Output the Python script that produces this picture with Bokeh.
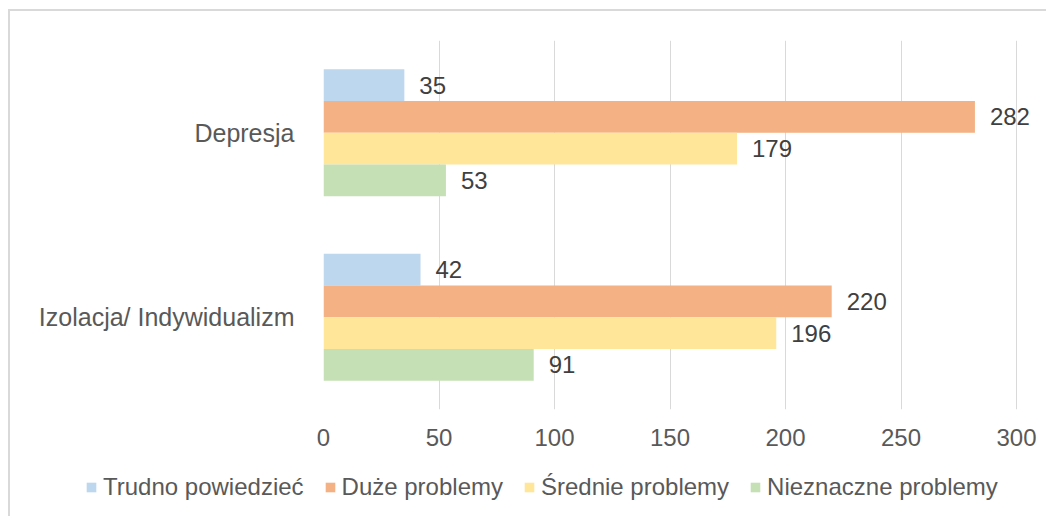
from bokeh.plotting import figure
from bokeh.models import ColumnDataSource, Range1d, FactorRange, FixedTicker, Legend, LegendItem, Spacer
from bokeh.layouts import column, row
from bokeh.transform import dodge
from bokeh.core.properties import value
from bokeh.embed import file_html
from bokeh.resources import INLINE

# ---- data ----
categories = ["Izolacja/ Indywidualizm", "Depresja"]  # bottom -> top
series_names = ["Trudno powiedzieć", "Duże problemy", "Średnie problemy", "Nieznaczne problemy"]
trudno = [42, 35]
duze = [220, 282]
srednie = [196, 179]
nieznaczne = [91, 53]
colors = ["#BDD7EE", "#F4B183", "#FFE699", "#C5E0B4"]
x_ticks = [0, 50, 100, 150, 200, 250, 300]

FONT = "Liberation Sans"
BORDER = "2px solid #D9D9D9"
series_values = [trudno, duze, srednie, nieznaczne]
bar_h = 0.172
offsets = [1.5 * bar_h, 0.5 * bar_h, -0.5 * bar_h, -1.5 * bar_h]

# frame: 300 units -> 693 px; the frame is 725 px wide so labels past 300 are not clipped
x_end = 300 * 725 / 693

# ---- main chart ----
p = figure(
    width=1038, height=449,
    y_range=FactorRange(factors=categories),
    x_range=Range1d(0, x_end),
    output_backend="svg", toolbar_location=None,
    min_border_left=313, min_border_right=0, min_border_top=29, min_border_bottom=51,
)
p.styles = {"border-top": BORDER, "border-left": BORDER}
p.outline_line_color = None
p.background_fill_color = "white"
p.border_fill_color = "white"

sources = []
for name, vals, col, off in zip(series_names, series_values, colors, offsets):
    src = ColumnDataSource(dict(cat=categories, val=vals, lbl=[str(v) for v in vals]))
    sources.append(src)
    p.hbar(y=dodge("cat", off, range=p.y_range), left=0, right="val", height=bar_h,
           source=src, fill_color=col, line_color=None)
    p.text(x="val", y=dodge("cat", off, range=p.y_range), text="lbl", source=src,
           x_offset=15, text_align="left", text_baseline="middle",
           text_font=value(FONT), text_font_size="24px", text_color="#404040")

ticker = FixedTicker(ticks=x_ticks)
p.xaxis.ticker = ticker
p.xgrid.ticker = ticker
p.xgrid.grid_line_color = "#D9D9D9"
p.ygrid.grid_line_color = None

for ax in (p.xaxis[0], p.yaxis[0]):
    ax.axis_line_color = None
    ax.major_tick_line_color = None
    ax.minor_tick_line_color = None
    ax.major_label_text_font = FONT
    ax.major_label_text_color = "#595959"
p.xaxis.major_label_text_font_size = "24px"
p.yaxis.major_label_text_font_size = "25px"
p.xaxis.major_label_standoff = 13
p.yaxis.major_label_standoff = 23

# ---- legend strip: same series, its range keeps the bars out of view so only the legend shows ----
pl = figure(
    width=1038, height=58,
    x_range=Range1d(-2, -1), y_range=FactorRange(factors=categories),
    x_axis_location=None, y_axis_location=None,
    output_backend="svg", toolbar_location=None,
    min_border_left=0, min_border_right=0, min_border_top=0, min_border_bottom=0,
)
pl.frame_align = False
pl.styles = {"border-left": BORDER}
pl.outline_line_color = None
pl.xgrid.grid_line_color = None
pl.ygrid.grid_line_color = None

items = []
for name, col, src in zip(series_names, colors, sources):
    r = pl.hbar(y="cat", left=0, right="val", height=bar_h, source=src,
                fill_color=col, line_color=None)
    items.append(LegendItem(label=name, renderers=[r]))

legend = Legend(items=items, location=(75, 15), orientation="horizontal",
                padding=0, margin=0, spacing=20, label_standoff=6,
                glyph_width=12, glyph_height=12, label_height=20,
                label_text_font=FONT, label_text_font_size="24px", label_text_color="#595959",
                border_line_color=None, background_fill_alpha=0)
pl.add_layout(legend)

root = column(Spacer(height=9), row(Spacer(width=8), column(p, pl)))

open("out.html", "w").write(file_html(root, INLINE))
